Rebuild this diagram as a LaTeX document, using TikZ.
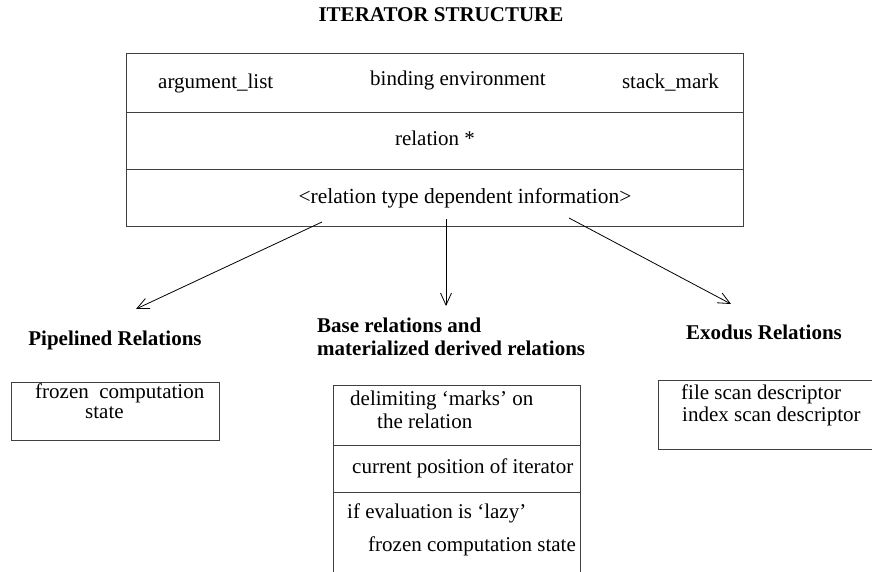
\documentclass[tikz,border=0pt]{standalone}
\usepackage{fontspec}
\setmainfont{Liberation Serif}
\usetikzlibrary{arrows.meta}
\begin{document}
\begin{tikzpicture}[x=1pt,y=-1pt,
  txt/.style={inner sep=0pt, font=\fontsize{21}{25}\selectfont, text height=14pt, text depth=4pt},
  hdr/.style={txt, font=\fontsize{21}{25}\selectfont\bfseries},
  ln/.style={line width=0.9pt, draw=black!75},
  arr/.style={line width=0.8pt, -{Straight Barb[length=12pt,width=11pt,line width=0.8pt]}}
]
\useasboundingbox (0,0) rectangle (872,572);

% title
\node[hdr] (title) at (441,17) {ITERATOR STRUCTURE};

% main box
\node[ln, draw, minimum width=617pt, minimum height=173pt, inner sep=0pt, anchor=north west] (main) at (126,53) {};
\coordinate (l1a) at (126,112); \coordinate (l1b) at (743,112);
\coordinate (l2a) at (126,169); \coordinate (l2b) at (743,169);
\draw[ln] (l1a) -- (l1b);
\draw[ln] (l2a) -- (l2b);
\node[txt, anchor=west] (arglist) at (158,84) {argument\_list};
\node[txt] (binding) at (458,81) {binding environment};
\node[txt, anchor=east] (stack) at (719,84) {stack\_mark};
\node[txt] (rel) at (435,141) {relation *};
\node[txt, font=\fontsize{21.5}{25}\selectfont] (rtdi) at (465,199) {<relation type dependent information>};

% arrow start points
\coordinate (s1) at (322,222);
\coordinate (s2) at (446,219);
\coordinate (s3) at (569,218);
\coordinate (t1) at (136,309);
\coordinate (t2) at (446,306);
\coordinate (t3) at (731,304);
\draw[arr] (s1) -- (t1);
\draw[arr] (s2) -- (t2);
\draw[arr] (s3) -- (t3);

% pipelined
\node[hdr] (piph) at (115,340) {Pipelined Relations};
\node[ln, draw, minimum width=208pt, minimum height=58pt, inner sep=0pt, anchor=north west] (pipbox) at (11,382) {};
\node[txt, anchor=west] (pip1) at (35,393) {frozen\ \ computation};
\node[txt, anchor=west] (pip2) at (85,413) {state};

% base relations
\node[hdr, anchor=west] (baseh1) at (317,327) {Base relations and};
\node[hdr, anchor=west] (baseh2) at (317,350) {materialized derived relations};
\coordinate (b1) at (333,572); \coordinate (b2) at (333,385);
\coordinate (b3) at (580,385); \coordinate (b4) at (580,572);
\draw[ln] (b1) -- (b2) -- (b3) -- (b4);
\coordinate (bl1a) at (333,445); \coordinate (bl1b) at (580,445);
\coordinate (bl2a) at (333,492); \coordinate (bl2b) at (580,492);
\draw[ln] (bl1a) -- (bl1b);
\draw[ln] (bl2a) -- (bl2b);
\node[txt, anchor=west] (base1) at (350,400) {delimiting `marks' on};
\node[txt, anchor=west] (base2) at (377,423) {the relation};
\node[txt, anchor=west] (base3) at (352,468) {current position of iterator};
\node[txt, anchor=west] (base4) at (347,513) {if evaluation is `lazy'};
\node[txt, anchor=west] (base5) at (368,546) {frozen computation state};

% exodus
\node[hdr] (exoh) at (764,334) {Exodus Relations};
\coordinate (e1) at (872,380); \coordinate (e2) at (658,380);
\coordinate (e3) at (658,449); \coordinate (e4) at (872,449);
\draw[ln] (e1) -- (e2) -- (e3) -- (e4);
\node[txt, anchor=west] (exo1) at (681,394) {file scan descriptor};
\node[txt, anchor=west] (exo2) at (682,416) {index scan descriptor};
\end{tikzpicture}
\end{document}
